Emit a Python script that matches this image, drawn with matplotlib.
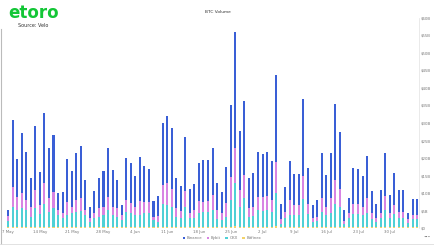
import numpy as np
import pandas as pd
import matplotlib
matplotlib.use('Agg')
import matplotlib.pyplot as plt

# daily BTC volume per exchange, $B
dates = pd.date_range('2024-05-07', '2024-08-05', freq='D')

binance = [1.9, 19.2, 10.7, 17.0, 13.7, 8.2, 18.1, 9.3, 20.0, 14.5,
           16.2, 5.0, 6.2, 12.2, 10.3, 13.3, 14.9, 8.6, 3.3, 6.4,
           8.6, 10.2, 14.1, 10.5, 8.1, 3.0, 12.1, 11.4, 8.9, 12.7,
           10.3, 9.5, 4.3, 5.8, 17.7, 19.0, 17.4, 8.8, 7.2, 15.4,
           7.1, 7.6, 11.0, 11.9, 11.7, 13.5, 7.7, 6.2, 10.3, 20.5,
           33.0, 16.9, 21.2, 8.6, 9.5, 12.7, 12.4, 12.5, 11.2, 24.6,
           4.1, 7.1, 11.2, 8.9, 8.9, 21.9, 10.2, 3.8, 4.8, 12.9,
           9.0, 12.9, 21.6, 16.3, 3.0, 4.3, 10.2, 9.9, 8.8, 12.2,
           6.4, 4.0, 6.5, 12.4, 5.2, 9.2, 6.4, 6.4, 1.7, 4.6, 4.6]
bybit = [1.3, 5.7, 3.8, 4.5, 2.7, 2.9, 5.4, 2.6, 5.9, 3.8,
         4.8, 1.4, 1.4, 3.8, 1.9, 3.3, 3.6, 1.4, 1.0, 1.4,
         2.4, 2.4, 3.8, 2.4, 2.4, 1.4, 3.3, 2.9, 2.4, 3.8,
         3.3, 3.3, 1.0, 1.6, 5.4, 6.4, 5.0, 2.4, 1.9, 4.6,
         1.4, 2.1, 3.3, 3.0, 2.9, 4.3, 2.6, 1.9, 4.0, 6.7,
         10.0, 4.8, 6.7, 2.4, 2.7, 3.8, 3.8, 4.0, 3.3, 8.9,
         1.4, 1.9, 4.3, 2.9, 2.9, 6.7, 2.9, 1.0, 1.1, 3.8,
         2.4, 4.3, 6.9, 5.0, 0.8, 1.4, 3.0, 3.0, 2.4, 4.1,
         1.7, 1.0, 1.6, 4.0, 1.4, 2.6, 1.6, 1.6, 1.0, 1.3, 1.3]
okx = [1.8, 5.6, 4.8, 5.3, 5.0, 2.9, 5.3, 3.7, 6.7, 4.4,
       5.3, 3.4, 2.5, 3.4, 3.9, 4.4, 4.6, 3.4, 1.5, 2.5,
       2.9, 3.4, 4.8, 3.4, 2.9, 2.0, 4.4, 3.9, 3.4, 3.5,
       3.9, 3.9, 2.0, 1.5, 6.7, 6.3, 5.8, 2.9, 2.7, 5.8,
       2.5, 2.7, 4.1, 4.2, 4.4, 4.8, 2.3, 2.0, 2.9, 7.7,
       12.3, 5.8, 8.2, 2.9, 3.1, 4.8, 4.7, 4.8, 4.4, 9.6,
       1.0, 2.5, 3.4, 3.4, 3.4, 7.9, 3.7, 1.5, 1.8, 4.4,
       3.4, 3.9, 6.6, 5.8, 1.0, 2.5, 3.6, 3.6, 3.4, 4.1,
       2.2, 1.5, 2.5, 4.8, 2.5, 3.7, 2.7, 2.7, 1.2, 2.2, 2.2]
bitfinex = [0.3] * 91
bitfinex[50] = 0.6
bitfinex[59] = 0.5

yticks = np.arange(0, 61, 5)
ytick_labels = ['$0'] + ['$%dB' % v for v in yticks[1:]]

colors = {'Binance': '#3a5fd6', 'Bybit': '#d884e3', 'OKX': '#4fd0d6', 'Bitfinex': '#f3d36a'}

fig = plt.figure(figsize=(4.35, 2.45), dpi=100)
ax = fig.add_axes([0.007, 0.069, 0.956, 0.858])

x = np.arange(len(dates))
w = 0.45
b0 = np.array(bitfinex)
b1 = b0 + np.array(okx)
b2 = b1 + np.array(bybit)
ax.bar(x, bitfinex, w, color=colors['Bitfinex'], label='Bitfinex', zorder=3)
ax.bar(x, okx, w, bottom=b0, color=colors['OKX'], label='OKX', zorder=3)
ax.bar(x, bybit, w, bottom=b1, color=colors['Bybit'], label='Bybit', zorder=3)
ax.bar(x, binance, w, bottom=b2, color=colors['Binance'], label='Binance', zorder=3)

ax.set_xlim(-1.1, 90.4)
ax.set_ylim(0, 60)
ax.yaxis.tick_right()
ax.set_yticks(yticks)
ax.set_yticklabels(ytick_labels)
tick_idx = x[::7]
ax.set_xticks(tick_idx)
ax.set_xticklabels([f'{d.day} {d.strftime("%b")}' for d in dates[::7]])
ax.tick_params(axis='both', length=0, labelsize=2.8, colors='#777777', pad=1.5)
for s in ['top', 'left', 'bottom']:
    ax.spines[s].set_visible(False)
ax.spines['right'].set_color('#e2e2e2')
ax.spines['right'].set_linewidth(0.5)

handles, labels = ax.get_legend_handles_labels()
order = [3, 2, 1, 0]
leg = fig.legend([handles[i] for i in order], [labels[i] for i in order],
                 loc='center', bbox_to_anchor=(0.51, 0.028), ncol=4, frameon=False,
                 fontsize=2.8, handlelength=0.6, handleheight=0.6, columnspacing=1.2,
                 handletextpad=0.4, labelcolor='#777777')

fig.text(0.5, 0.95, 'BTC Volume', ha='center', va='center', fontsize=3.2, color='#333333')

# eToro logo and source
fig.text(0.02, 0.925, 'etoro', fontsize=12, fontweight='bold', color='#13c636', va='baseline')
fig.text(0.042, 0.905, 'Source: Velo', fontsize=3.5, color='#333333', va='top')
fig.text(0.99, 0.02, '•••', fontsize=3, color='#555555', ha='right', va='bottom')

# light frame on the left and bottom
fig.add_artist(plt.Line2D([0.002, 0.002], [0.0, 0.88], color='#bbbbbb', lw=0.8))
fig.add_artist(plt.Line2D([0.0, 1.0], [0.006, 0.006], color='#dddddd', lw=0.6))

fig.savefig('out.png', dpi=100)
